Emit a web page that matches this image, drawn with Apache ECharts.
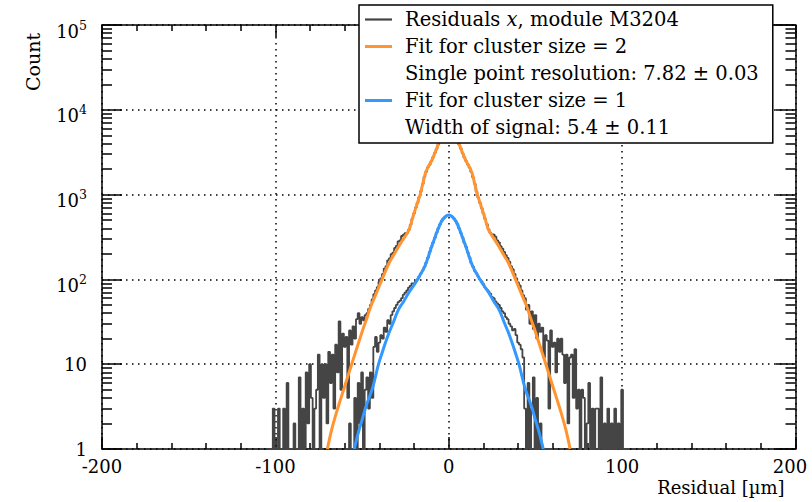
<!DOCTYPE html>
<html><head><meta charset="utf-8">
<script src="https://cdn.jsdelivr.net/npm/echarts@6/dist/echarts.min.js"></script>
<style>html,body{margin:0;padding:0;background:#fff}#c{width:812px;height:502px}</style>
</head><body><div id="c"></div>
<script>
// ---- data ----
const histStart = -104;   // centre of first bin (µm)
const binWidth = 1;       // µm
const totalCounts = [
  1,1,1,3,1,1,3,1,1,3,
  1,6,1,1,1,2,1,1,7,1,
  3,1,8,2,10,4,1,3,5,13,
  1,10,4,10,2,14,6,13,3,17,
  8,32,5,23,16,21,4,25,17,28,
  20,34,40,30,36,33,38,40,45,50,
  58,67,74,81,94,103,116,134,143,168,
  177,199,207,235,249,280,289,325,336,350,
  350,385,440,520,600,700,800,935,1100,1330,
  1620,1860,2100,2250,2480,2760,3100,3450,3900,4400,
  4650,4850,5000,5060,
  5100,
  5050,4980,4830,4620,
  4380,3880,3480,3080,2740,2490,2270,2080,1850,1600,
  1340,1090,925,800,695,600,515,450,390,355,
  340,336,319,289,274,246,230,211,193,179,
  162,143,132,116,103,92,85,74,65,60,
  44,50,30,42,26,38,20,30,24,27,
  12,22,19,3,25,16,18,8,20,14,
  20,13,6,13,2,12,13,4,15,3,
  5,1,5,4,1,2,6,1,3,1,
  3,3,1,7,1,2,1,3,1,2,
  1,3,1,2,1,5,1,1,1,1
];
const size1Start = -60;
const size1Counts = [
  1,1,1,2,1,1,4,1,6,2,
  8,1,5,7,3,8,4,16,21,14,
  18,22,20,27,24,33,30,38,42,46,
  50,54,56,60,66,70,74,80,84,90,
  90,95,100,108,118,128,140,158,180,210,
  240,272,310,355,400,448,490,522,548,568,
  575,
  566,550,520,488,450,398,352,312,270,242,
  208,182,156,142,126,118,108,100,95,88,
  80,76,72,68,62,60,55,52,50,46,
  42,40,36,34,30,28,25,26,22,18,
  17,15,12,3,1,6,1,3,7,1,
  4,1,2,1,1,1,1,1,1,1
];
const fit2X = [-70,-67.5,-65,-62.5,-60,-56,-53,-50,-47,-45,-42,-38.5,-34.5,-32,-29,-26,-23,-21,-19.5,-18,-16.5,-15,-13.5,-12,-9.7,-8,-6.5,-5,-3,-1.5,0,
               1.5,3,5,6.5,8,9.7,12,13.5,15,16.5,18,19.5,21,23,26,29,32,34.5,38.5,42,45,47,50,53,56,60,62.5,65,67.5,70];
const fit2Y = [1,1.7,2.6,3.8,5.5,10,15.5,24,36,48,67,100,155,190,243,305,382,518,650,805,1000,1335,1780,2090,2560,3090,3700,4400,4840,5040,5100,
               5040,4840,4400,3700,3090,2560,2090,1780,1335,1000,805,650,518,382,305,243,190,155,100,67,48,36,24,15.5,10,5.5,3.8,2.6,1.7,1];
const fit1X = [-54.5,-52,-50,-47.7,-44,-40.5,-38,-35,-32,-29,-26,-23,-20,-18,-16,-14,-12,-10,-8,-6,-4,-2,0,
               2,4,6,8,10,12,14,16,18,20,23,26,29,32,35,38,40.5,44,47.7,50,52,54.5];
const fit1Y = [1,1.6,2.2,3.2,5.2,10,14.5,22,31,44,55,70,86,100,118,140,180,240,310,400,490,548,575,
               548,490,400,310,240,180,140,118,100,86,70,55,44,31,22,14.5,10,5.2,3.2,2.2,1.6,1];
const xTicks = [-200,-100,0,100,200];
const yMajorTicks = [1,10,100,1000,10000,100000];
const yMinorTicks = [2,3,4,5,6,7,8,9,20,30,40,50,60,70,80,90,200,300,400,500,600,700,800,900,
                     2000,3000,4000,5000,6000,7000,8000,9000,20000,30000,40000,50000,60000,70000,80000,90000];
const legendNames = ['Residuals x, module M3204','Fit for cluster size = 2',
                     'Single point resolution: 7.82 ± 0.03','Fit for cluster size = 1','Width of signal: 5.4 ± 0.11'];
const xTitle = 'Residual [µm]';
const yTitle = 'Count';

// ---- styles ----
const FONT = 'DejaVu Serif';
const GRAY = '#454545', ORANGE = '#FF9430', BLUE = '#3399FF';
const BLK = '#000';

const totalData = totalCounts.map((c, i) => [histStart + i * binWidth, c]);
const size1Data = size1Counts.map((c, i) => [size1Start + i * binWidth, c]);
const fit2Data = fit2X.map((x, i) => [x, fit2Y[i]]);
const fit1Data = fit1X.map((x, i) => [x, fit1Y[i]]);

const chart = echarts.init(document.getElementById('c'), null, {renderer: 'svg'});

function xAxisCfg(pos, labels) {
  return {
    type: 'value', position: pos, min: xTicks[0], max: xTicks[xTicks.length - 1], interval: 100,
    axisLine: {show: true, onZero: false, lineStyle: {color: BLK, width: 1.5}},
    axisTick: {show: true, inside: true, length: 12, lineStyle: {color: BLK, width: 1.5}},
    minorTick: {show: true, splitNumber: 5, length: 6, lineStyle: {color: BLK, width: 1.5}},
    axisLabel: labels ? {
      show: true, margin: 8, color: BLK, fontFamily: FONT, fontSize: 18,
      formatter: v => v === 200 ? '{r|200}' : String(v),
      rich: {r: {fontFamily: FONT, fontSize: 18, color: BLK, padding: [0, 11, 0, 0]}}
    } : {show: false},
    splitLine: labels ? {show: true, lineStyle: {color: BLK, width: 1.5, type: [1.5, 4.5]}} : {show: false},
    name: labels ? xTitle : '', nameLocation: 'end', nameGap: -11,
    nameTextStyle: {fontFamily: FONT, fontSize: 18, color: BLK, align: 'right', verticalAlign: 'top', padding: [29, 0, 0, 0]}
  };
}
function yAxisCfg(pos, minor, labels) {
  return {
    type: 'log', logBase: 10, position: pos, min: 1, max: 100000,
    axisLine: {show: !minor, onZero: false, lineStyle: {color: BLK, width: 1.5}},
    axisTick: {show: true, inside: true, length: minor ? 10 : 20,
               customValues: minor ? yMinorTicks : yMajorTicks,
               lineStyle: {color: BLK, width: 1.5}},
    axisLabel: labels ? {
      show: true, margin: 15, color: BLK, fontFamily: FONT, fontSize: 18,
      customValues: yMajorTicks,
      formatter: v => {
        if (v < 5) return '{b|1}';
        if (v < 50) return '{b|10}';
        return '{s|10}{u|' + Math.round(Math.log10(v)) + '}';
      },
      rich: {
        b: {fontFamily: FONT, fontSize: 18, color: BLK, lineHeight: 14},
        s: {fontFamily: FONT, fontSize: 18, color: BLK, lineHeight: 30, verticalAlign: 'bottom'},
        u: {fontFamily: FONT, fontSize: 12.5, color: BLK, lineHeight: 30, verticalAlign: 'middle'}
      }
    } : {show: false},
    splitLine: labels ? {show: true, lineStyle: {color: BLK, width: 1.5, type: [1.5, 4.5]}} : {show: false},
    minorTick: {show: false}, minorSplitLine: {show: false}
  };
}

const richLeg = {
  f: {fontFamily: FONT, fontSize: 19.5, color: BLK, lineHeight: 27, padding: [0, 0, 0, 8]},
  i: {fontFamily: FONT, fontSize: 19.5, color: BLK, lineHeight: 27, fontStyle: 'italic'},
  a: {fontFamily: FONT, fontSize: 19.5, color: BLK, lineHeight: 27}
};

chart.setOption({
  animation: false,
  backgroundColor: '#fff',
  grid: {left: 102, right: 16.5, top: 25, bottom: 53, containLabel: false},
  xAxis: [xAxisCfg('bottom', true), xAxisCfg('top', false)],
  yAxis: [yAxisCfg('left', false, true), yAxisCfg('left', true, false),
          yAxisCfg('right', false, false), yAxisCfg('right', true, false)],
  legend: {
    left: 359, top: 5, orient: 'vertical', align: 'left',
    backgroundColor: '#fff', borderColor: BLK, borderWidth: 1.5, borderRadius: 0,
    padding: [1, 14, 2, 6], itemWidth: 27, itemHeight: 3, itemGap: 0, icon: 'rect',
    selectedMode: false,
    textStyle: {fontFamily: FONT, fontSize: 19.5, color: BLK, lineHeight: 27, rich: richLeg},
    data: [
      {name: legendNames[0], icon: 'path://M0,0L0,0M0,0.4L27,0.4L27,2.6L0,2.6ZM0,3L0,3'},
      legendNames[1], legendNames[2], legendNames[3], legendNames[4]
    ],
    formatter: name => name === legendNames[0]
      ? '{f|Residuals }{i|x}{a|, module M3204}'
      : '{f|' + name + '}'
  },
  graphic: [{
    type: 'text', x: 33, y: 62, rotation: Math.PI / 2,
    style: {text: yTitle, fontFamily: FONT, fontSize: 19, fill: BLK, align: 'center', verticalAlign: 'middle'}
  }],
  series: [
    {name: legendNames[0], type: 'line', step: 'middle', data: totalData, showSymbol: false, symbol: 'none',
     color: GRAY, lineStyle: {color: GRAY, width: 1.8}, z: 2},
    {name: 'size1', type: 'line', step: 'middle', data: size1Data, showSymbol: false, symbol: 'none',
     color: GRAY, lineStyle: {color: GRAY, width: 1.8}, z: 2},
    {name: legendNames[1], type: 'line', data: fit2Data, smooth: 0.4, showSymbol: false, symbol: 'none',
     color: ORANGE, lineStyle: {color: ORANGE, width: 3}, z: 3},
    {name: legendNames[2], type: 'line', data: [], symbol: 'none', color: 'rgba(0,0,0,0)'},
    {name: legendNames[3], type: 'line', data: fit1Data, smooth: 0.4, showSymbol: false, symbol: 'none',
     color: BLUE, lineStyle: {color: BLUE, width: 3}, z: 3},
    {name: legendNames[4], type: 'line', data: [], symbol: 'none', color: 'rgba(0,0,0,0)'}
  ]
});
</script>
</body></html>
